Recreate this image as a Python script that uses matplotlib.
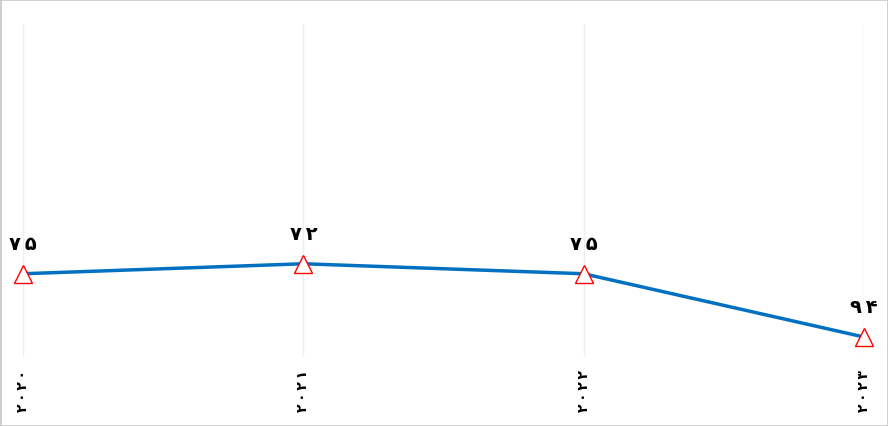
import matplotlib.pyplot as plt
from matplotlib.patches import Rectangle

years = ['۲۰۲۰', '۲۰۲۱', '۲۰۲۲', '۲۰۲۳']
values = [75, 72, 75, 94]
labels = ['۷۵', '۷۲', '۷۵', '۹۴']

fig = plt.figure(figsize=(8.88, 4.27), dpi=100)
ax = fig.add_axes([23 / 888, 1 - 358 / 427, (864 - 23) / 888, (358 - 25) / 427])

x = list(range(len(years)))
ax.plot(x, values, color='#0070C0', linewidth=2.5, zorder=2, clip_on=False)
ax.plot(x, values, linestyle='none', marker='^', markersize=13, clip_on=False,
        markerfacecolor='white', markeredgecolor='#FF0000', markeredgewidth=1, zorder=3)

# spread the digits a little, like the original
thin = '\u2009'
for xi, v, lab in zip(x, values, labels):
    ax.annotate(thin.join(lab), (xi, v), xytext=(0, 15), textcoords='offset points',
                ha='center', va='bottom', fontsize=14, fontweight='bold',
                family='DejaVu Sans', color='black')

ax.set_xlim(0, len(years) - 1)
ax.set_ylim(100, 0)
ax.set_xticks(x)
ax.set_xticklabels([thin.join(y) for y in years], rotation=90, fontsize=10, fontweight='bold')
ax.set_yticks([])
ax.tick_params(axis='x', length=0, pad=9)
ax.grid(axis='x', color='#eeeeee', linewidth=1, zorder=0)
for s in ax.spines.values():
    s.set_visible(False)

fig.patches.append(Rectangle((0, 0), 1, 1, transform=fig.transFigure,
                             fill=False, edgecolor='#cccccc', linewidth=2))

fig.savefig('out.png', dpi=100)
